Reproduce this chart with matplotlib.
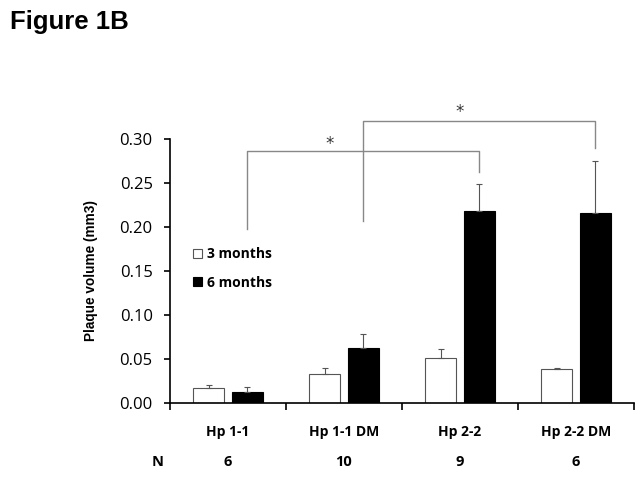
import matplotlib
matplotlib.use("Agg")
import matplotlib.pyplot as plt
import numpy as np

categories = ["Hp 1-1", "Hp 1-1 DM", "Hp 2-2", "Hp 2-2 DM"]
n_values = ["6", "10", "9", "6"]
months3 = [0.0164, 0.0323, 0.0509, 0.0380]
months3_err = [0.0034, 0.0076, 0.0099, 0.0015]
months6 = [0.0125, 0.0626, 0.2187, 0.2160]
months6_err = [0.0050, 0.0160, 0.0307, 0.0593]
yticks = [0.00, 0.05, 0.10, 0.15, 0.20, 0.25, 0.30]

fig = plt.figure(figsize=(6.41, 4.79), dpi=100)
ax = fig.add_axes([170/641, 1-402.7/479, 464/641, 263.4/479])

x = np.arange(len(categories))
w = 0.267
off = 0.164
ekw = dict(ecolor="#555555", elinewidth=0.8, capsize=2.5, capthick=0.8)
ax.bar(x - off, months3, w, color="white", edgecolor="#555555", linewidth=0.8,
       yerr=[[0]*4, months3_err], error_kw=ekw, label="3 months")
ax.bar(x + off, months6, w, color="black", edgecolor="black", linewidth=0.8,
       yerr=[[0]*4, months6_err], error_kw=ekw, label="6 months")
ax.set_xlim(-0.5, 3.5)
ax.set_ylim(0, 0.30)

for s in ["top", "right"]:
    ax.spines[s].set_visible(False)
ax.spines["left"].set_linewidth(1.2)
ax.spines["bottom"].set_linewidth(1.2)
ax.set_yticks(yticks)
ax.set_yticklabels([f"{v:.2f}" for v in yticks], fontfamily="Open Sans", fontsize=12)
ax.tick_params(axis="y", length=4, width=1.2, pad=8.5)
ax.set_xticks([-0.5, 0.5, 1.5, 2.5, 3.5])
ax.set_xticklabels([])
ax.tick_params(axis="x", length=5, width=1.2)

tr = ax.get_xaxis_transform()
for i, c in enumerate(categories):
    ax.text(x[i], -0.111, c, ha="center", va="center", fontfamily="Open Sans",
            fontweight="bold", fontsize=10, transform=tr, clip_on=False)
    ax.text(x[i], -0.225, n_values[i], ha="center", va="center", fontfamily="Open Sans",
            fontweight="bold", fontsize=10.5, transform=tr, clip_on=False)
ax.text(-0.603, -0.225, "N", ha="center", va="center", fontfamily="Open Sans",
        fontweight="bold", fontsize=10.5, transform=tr, clip_on=False)

fig.text(91/641, 1-271/479, "Plaque volume (mm3)",
         fontfamily="Liberation Sans", fontweight="bold",
         fontsize=9.8, rotation=90, ha="center", va="center")

# significance brackets
gray = "#888888"
b1 = ([0 + off, 0 + off, 2 + off, 2 + off], [0.1975, 0.2866, 0.2866, 0.263])
b2 = ([1 + off, 1 + off, 3 + off, 3 + off], [0.207, 0.3208, 0.3208, 0.290])
for bx, by in (b1, b2):
    ax.plot(bx, by, color=gray, lw=1.0, clip_on=False)
ax.text(0.875, 0.295, "*", ha="center", va="center", fontsize=12, color="#333333", clip_on=False)
ax.text(2.0, 0.331, "*", ha="center", va="center", fontsize=12, color="#333333", clip_on=False)

leg = ax.legend(loc="center left", bbox_to_anchor=(0.023, 0.51), frameon=False,
                prop=dict(family="Open Sans", weight="bold", size=10),
                handlelength=0.6, handleheight=0.6, handletextpad=0.4, labelspacing=1.05)

fig.text(10/641, 1-22/479, "Figure 1B", fontfamily="Liberation Sans", fontweight="bold",
         fontsize=18.5, ha="left", va="center")

fig.savefig("out.png", dpi=100)
